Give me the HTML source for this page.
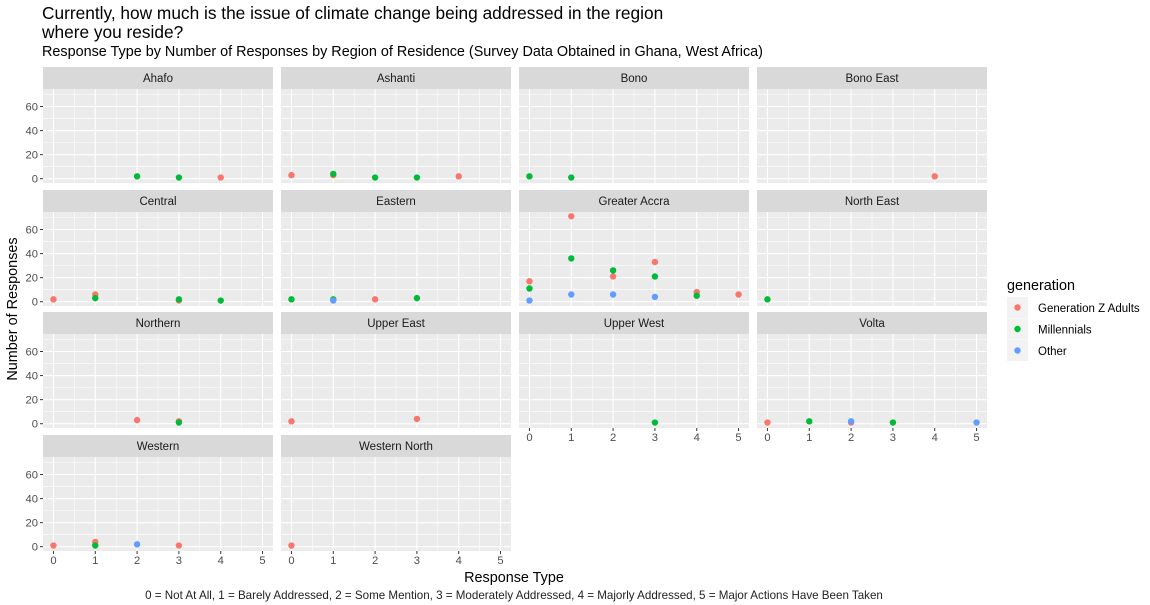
<!DOCTYPE html>
<html><head><meta charset="utf-8"><style>
body{margin:0;background:#fff;}
svg{display:block;font-family:"Liberation Sans",Arial,sans-serif;}
</style></head><body>
<svg id="chart" width="1150" height="605" viewBox="0 0 1150 605">
<text x="42" y="19" font-size="17.3" fill="#000">Currently, how much is the issue of climate change being addressed in the region</text>
<text x="42" y="38" font-size="17.3" fill="#000">where you reside?</text>
<text x="42" y="56" font-size="14.4" fill="#000">Response Type by Number of Responses by Region of Residence (Survey Data Obtained in Ghana, West Africa)</text>
<text transform="translate(17,309) rotate(-90)" text-anchor="middle" font-size="14.4" fill="#000">Number of Responses</text>
<text x="514" y="582" text-anchor="middle" font-size="14.4" fill="#000">Response Type</text>
<text x="514" y="599" text-anchor="middle" font-size="11.6" fill="#222">0 = Not At All, 1 = Barely Addressed, 2 = Some Mention, 3 = Moderately Addressed, 4 = Majorly Addressed, 5 = Major Actions Have Been Taken</text>
<g id="panels"></g>
<g>
<text x="1007" y="290" font-size="14.4" fill="#000">generation</text>
<g id="legend"></g>
</g>
</svg>
<script>
const regions = ["Ahafo","Ashanti","Bono","Bono East","Central","Eastern","Greater Accra","North East","Northern","Upper East","Upper West","Volta","Western","Western North"];
const generations = ["Generation Z Adults","Millennials","Other"];
const colors = ["#F8766D","#00BA38","#619CFF"];
const xTicks = [0,1,2,3,4,5];
const yTicks = [0,20,40,60];
// [region, response type, count]
const genZ = [
 ["Ahafo",4,1],["Ashanti",0,3],["Ashanti",1,3],["Ashanti",4,2],["Bono East",4,2],
 ["Central",0,2],["Central",1,6],["Central",3,1],["Eastern",2,2],
 ["Greater Accra",0,17],["Greater Accra",1,71],["Greater Accra",2,21],["Greater Accra",3,33],["Greater Accra",4,8],["Greater Accra",5,6],
 ["Northern",2,3],["Northern",3,2],["Upper East",0,2],["Upper East",3,4],
 ["Volta",0,1],["Volta",2,1],["Western",0,1],["Western",1,4],["Western",3,1],["Western North",0,1]
];
const millennials = [
 ["Ahafo",2,2],["Ahafo",3,1],["Ashanti",1,4],["Ashanti",2,1],["Ashanti",3,1],
 ["Bono",0,2],["Bono",1,1],["Central",1,3],["Central",3,2],["Central",4,1],
 ["Eastern",0,2],["Eastern",1,2],["Eastern",3,3],
 ["Greater Accra",0,11],["Greater Accra",1,36],["Greater Accra",2,26],["Greater Accra",3,21],["Greater Accra",4,5],
 ["North East",0,2],["Northern",3,1],["Upper West",3,1],["Volta",1,2],["Volta",3,1],["Western",1,1]
];
const other = [
 ["Eastern",1,1],["Greater Accra",0,1],["Greater Accra",1,6],["Greater Accra",2,6],["Greater Accra",3,4],
 ["Volta",2,2],["Volta",5,1],["Western",2,2]
];
const series = [genZ, millennials, other];

const NS="http://www.w3.org/2000/svg";
function mk(tag, attrs, parent){const e=document.createElementNS(NS,tag);for(const k in attrs)e.setAttribute(k,attrs[k]);parent.appendChild(e);return e;}
const colX=[43,281,519,757], rowY=[67,190,312,435], PW=230, SH=22, PH=94;
const xmin=-0.25,xmax=5.25,ymin=-3.55,ymax=74.55;
const g=document.getElementById('panels');
const panelOf={};
regions.forEach((r,i)=>{
  const c=i%4, row=Math.floor(i/4);
  const x0=colX[c], st=rowY[row], y0=st+SH;
  const sx=v=>x0+(v-xmin)/(xmax-xmin)*PW;
  const sy=v=>y0+PH-(v-ymin)/(ymax-ymin)*PH;
  panelOf[r]={sx,sy};
  const pg=mk('g',{},g);
  
  
  const strip=mk('rect',{x:x0,y:st,width:PW,height:SH,fill:'#D9D9D9'},pg);
  
  
  const lab=mk('text',{x:x0+PW/2,y:st+15,'text-anchor':'middle','font-size':'11.5',fill:'#1A1A1A'},pg);
  lab.textContent=r;
  
  
  const bg=mk('rect',{x:x0,y:y0,width:PW,height:PH,fill:'#EBEBEB'},pg);
  
  
  for(let v=-10;v<=80;v+=10){ if(v<ymin||v>ymax)continue; const maj=v%20===0;
    mk('line',{x1:x0,x2:x0+PW,y1:sy(v),y2:sy(v),stroke:'#fff','stroke-width':maj?1.1:0.55},pg);}
  for(let v=-0.5;v<=5.5;v+=0.5){ if(v<xmin||v>xmax)continue; const maj=Number.isInteger(v);
    mk('line',{y1:y0,y2:y0+PH,x1:sx(v),x2:sx(v),stroke:'#fff','stroke-width':maj?1.1:0.55},pg);}
  if(c===0){
    yTicks.forEach(t=>{
      mk('line',{x1:x0-3,x2:x0,y1:sy(t),y2:sy(t),stroke:'#333','stroke-width':1},pg);
      const tl=mk('text',{x:x0-5,y:sy(t)+4,'text-anchor':'end','font-size':'11.2',fill:'#4D4D4D'},pg);
      tl.textContent=t;
      
      
    });
  }
  const bottom = (c<2 && row===3) || (c>=2 && row===2);
  if(bottom){
    xTicks.forEach(t=>{
      mk('line',{x1:sx(t),x2:sx(t),y1:y0+PH,y2:y0+PH+3,stroke:'#333','stroke-width':1},pg);
      const tl=mk('text',{x:sx(t),y:y0+PH+13,'text-anchor':'middle','font-size':'11.2',fill:'#4D4D4D'},pg);
      tl.textContent=t;
      
      
    });
  }
});
series.forEach((arr,gi)=>{
  arr.forEach(d=>{
    const p=panelOf[d[0]];
    const c=mk('circle',{cx:p.sx(d[1]),cy:p.sy(d[2]),r:3.2,fill:colors[gi]},g);
    
    
  });
});
const lg=document.getElementById('legend');
generations.forEach((n,i)=>{
  const y=297+i*21.5;
  mk('rect',{x:1007,y:y,width:21,height:21,fill:'#F2F2F2'},lg);
  const c=mk('circle',{cx:1017.5,cy:y+10.5,r:3.2,fill:colors[i]},lg);
  
  
  const t=mk('text',{x:1038,y:y+15,'font-size':'11.5',fill:'#000'},lg);
  t.textContent=n;
  
  
});
</script>
</body></html>
